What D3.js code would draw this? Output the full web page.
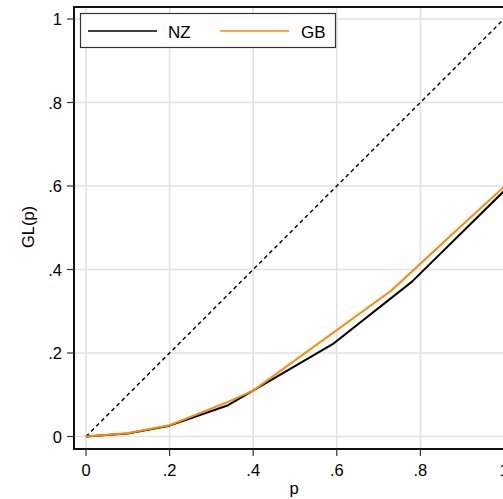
<!DOCTYPE html>
<html>
<head>
<meta charset="utf-8">
<script src="https://cdn.jsdelivr.net/npm/d3@7"></script>
<style>
  html, body { margin: 0; padding: 0; background: #fff; }
  svg { display: block; font-family: "Liberation Sans", Arial, sans-serif; }
</style>
</head>
<body>
<svg id="chart" width="503" height="499"></svg>
<script>
// Generalized Lorenz curves, GL(p), for two countries
const seriesNames = ["NZ", "GB"];
const seriesColors = ["#000000", "#ff8a00"];
const nzP = [0, 0.1, 0.2, 0.34, 0.59, 0.78, 1];
const nzGL = [0, 0.007, 0.026, 0.075, 0.221, 0.371, 0.588];
const gbP = [0, 0.1, 0.2, 0.34, 0.40, 0.73, 0.88, 1];
const gbGL = [0, 0.008, 0.027, 0.083, 0.11, 0.349, 0.488, 0.598];
const xTicks = [0, 0.2, 0.4, 0.6, 0.8, 1];
const yTicks = [0, 0.2, 0.4, 0.6, 0.8, 1];
const tickLabel = v => v === 0 ? "0" : v === 1 ? "1" : String(v).replace(/^0/, "");

const svg = d3.select("#chart");
const x = d3.scaleLinear().domain([0, 1]).range([86, 504]);
const y = d3.scaleLinear().domain([0, 1]).range([436.5, 19]);
const frame = { left: 74, top: 7, bottom: 449, right: 520 };

// grid
svg.append("g").selectAll("line.h").data(yTicks).join("line")
  .attr("x1", frame.left).attr("x2", frame.right)
  .attr("y1", d => y(d)).attr("y2", d => y(d))
  .attr("stroke", "#e2e2e2").attr("stroke-width", 1.6);
svg.append("g").selectAll("line.v").data(xTicks).join("line")
  .attr("y1", frame.top).attr("y2", frame.bottom)
  .attr("x1", d => x(d)).attr("x2", d => x(d))
  .attr("stroke", "#e2e2e2").attr("stroke-width", 1.6);

// equality line
svg.append("line")
  .attr("x1", x(0)).attr("y1", y(0)).attr("x2", x(1)).attr("y2", y(1))
  .attr("stroke", "#000").attr("stroke-width", 1.4)
  .attr("stroke-dasharray", "4,3.2");

// curves
const line = d3.line().x(d => x(d[0])).y(d => y(d[1]));
const nzData = nzP.map((p, i) => [p, nzGL[i]]);
const gbData = gbP.map((p, i) => [p, gbGL[i]]);
[nzData, gbData].forEach((data, i) => {
  svg.append("path").datum(data)
    .attr("d", line).attr("fill", "none")
    .attr("stroke", seriesColors[i]).attr("stroke-width", 2)
    .attr("stroke-linejoin", "round");
});

// frame
svg.append("path")
  .attr("d", `M${frame.right},${frame.top}H${frame.left}V${frame.bottom}H${frame.right}`)
  .attr("fill", "none").attr("stroke", "#111").attr("stroke-width", 2);

// y axis ticks and labels
const yg = svg.append("g");
yg.selectAll("line").data(yTicks).join("line")
  .attr("x1", 67).attr("x2", frame.left)
  .attr("y1", d => y(d)).attr("y2", d => y(d))
  .attr("stroke", "#333").attr("stroke-width", 1.2);
yg.selectAll("text").data(yTicks).join("text")
  .attr("x", 62).attr("y", d => y(d) + 6)
  .attr("text-anchor", "end").attr("font-size", 16.5)
  .text(tickLabel);

// x axis ticks and labels
const xg = svg.append("g");
xg.selectAll("line").data(xTicks).join("line")
  .attr("y1", frame.bottom).attr("y2", 456)
  .attr("x1", d => x(d)).attr("x2", d => x(d))
  .attr("stroke", "#333").attr("stroke-width", 1.2);
xg.selectAll("text").data(xTicks).join("text")
  .attr("x", d => x(d)).attr("y", 476)
  .attr("text-anchor", "middle").attr("font-size", 16.5)
  .text(tickLabel);

// axis titles
svg.append("text").attr("x", 294).attr("y", 494)
  .attr("text-anchor", "middle").attr("font-size", 16.5).text("p");
svg.append("text")
  .attr("transform", "translate(34,227) rotate(-90)")
  .attr("text-anchor", "middle").attr("font-size", 16.5).text("GL(p)");

// legend
const lg = svg.append("g");
lg.append("rect").attr("x", 80.5).attr("y", 13.5).attr("width", 255).attr("height", 34)
  .attr("fill", "#fff").attr("stroke", "#333").attr("stroke-width", 1.2);
const legendItems = [
  { x1: 88, x2: 157, tx: 168 },
  { x1: 220, x2: 289, tx: 301 }
];
legendItems.forEach((it, i) => {
  lg.append("line").attr("x1", it.x1).attr("x2", it.x2).attr("y1", 31).attr("y2", 31)
    .attr("stroke", seriesColors[i]).attr("stroke-width", 1.6);
  lg.append("text").attr("x", it.tx).attr("y", 37.5)
    .attr("font-size", 17).text(seriesNames[i]);
});
</script>
</body>
</html>
